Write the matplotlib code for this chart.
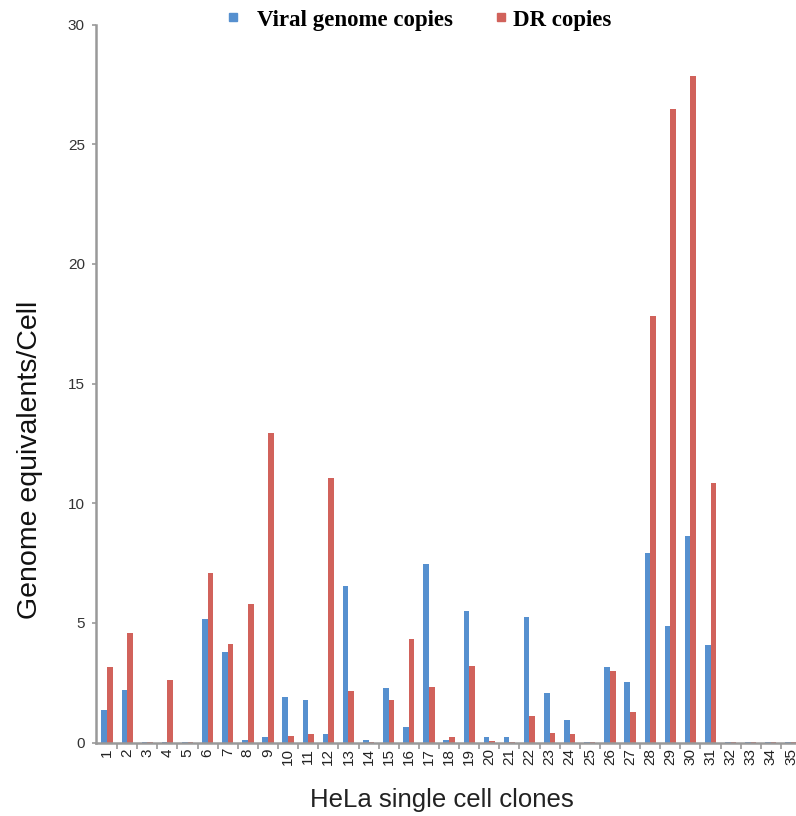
import matplotlib
matplotlib.use("Agg")
import matplotlib.pyplot as plt
from matplotlib.lines import Line2D
import numpy as np

clones = [str(i) for i in range(1, 36)]
viral = [1.34, 2.21, 0.03, 0.02, 0.03, 5.15, 3.77, 0.10, 0.25, 1.92,
         1.77, 0.35, 6.53, 0.10, 2.26, 0.64, 7.45, 0.10, 5.50, 0.21,
         0.25, 5.25, 2.06, 0.93, 0.03, 3.16, 2.51, 7.90, 4.87, 8.63,
         4.07, 0.03, 0.03, 0.03, 0.03]
dr = [3.16, 4.57, 0.03, 2.60, 0.03, 7.07, 4.12, 5.79, 12.93, 0.29,
      0.35, 11.05, 2.16, 0.03, 1.77, 4.33, 2.31, 0.25, 3.20, 0.05,
      0.03, 1.09, 0.40, 0.36, 0.03, 2.99, 1.28, 17.80, 26.45, 27.85,
      10.84, 0.03, 0.03, 0.03, 0.03]
series_names = ["Viral genome copies", "DR copies"]
blue = "#5690cf"
red = "#d1625b"

W, H = 796, 816
fig = plt.figure(figsize=(W/100, H/100), dpi=100)
ax = fig.add_axes([96/W, 1 - 742.5/H, 1 - 96/W, (742.5 - 24.5)/H])

x = np.arange(1, len(clones) + 1)
w = 0.28
ax.bar(x - w/2, viral, width=w, color=blue, zorder=2)
ax.bar(x + w/2, dr, width=w, color=red, zorder=2)

ax.set_ylim(0, 30)
ax.set_xlim(0.45, 35.25)
ax.set_yticks([0, 5, 10, 15, 20, 25, 30])
ax.set_xticks(x)
ax.set_xticklabels(clones, rotation=90, fontsize=11, family="Liberation Sans")
ax.set_xticks(np.arange(1.5, 35, 1), minor=True)
ax.tick_params(axis="x", which="major", length=0, pad=4)
ax.tick_params(axis="x", which="minor", length=4, color="#999999", width=1.2)
ax.tick_params(axis="y", length=3, color="#999999", width=1.2, pad=5)
for lab in ax.get_yticklabels():
    lab.set_fontsize(11)
    lab.set_family("Liberation Sans")
    lab.set_color("#333333")
for lab in ax.get_xticklabels():
    lab.set_color("#222222")

for s in ["top", "right"]:
    ax.spines[s].set_visible(False)
for s in ["left", "bottom"]:
    ax.spines[s].set_color("#999999")
    ax.spines[s].set_linewidth(1.8)

ax.set_ylabel("Genome equivalents/Cell", fontsize=20.5, family="Liberation Sans",
              color="#111111", va="center")
ax.yaxis.set_label_coords((30 - 96) / 700, (742.5 - 460) / 718)
ax.set_xlabel("HeLa single cell clones", fontsize=18.5, family="Liberation Sans",
              color="#222222", va="center")
ax.xaxis.set_label_coords((442 - 96) / 700, (742.5 - 800) / 718)

# legend (manually placed, as in the reference)
legend_font = {"family": "Liberation Serif", "weight": "bold", "size": 16.5}
fig.add_artist(Line2D([233/W], [1 - 17/H], marker="s", linestyle="none",
                      color=blue, markersize=5.5, transform=fig.transFigure))
fig.text(257/W, 1 - 26/H, series_names[0], ha="left", va="baseline", **legend_font)
fig.add_artist(Line2D([501/W], [1 - 17/H], marker="s", linestyle="none",
                      color=red, markersize=5.5, transform=fig.transFigure))
fig.text(513/W, 1 - 26/H, series_names[1], ha="left", va="baseline", **legend_font)

fig.savefig("out.png", dpi=100, facecolor="white")
